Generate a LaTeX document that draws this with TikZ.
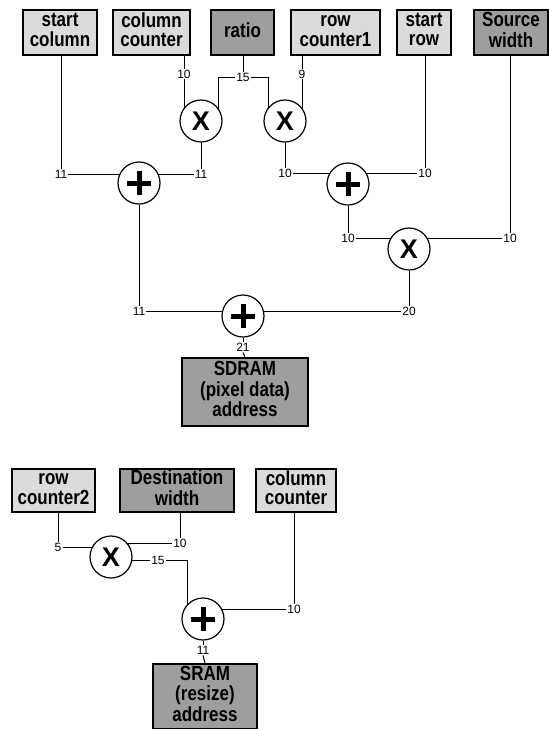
\documentclass[tikz,border=0pt]{standalone}
\usepackage{fontspec}
\setmainfont{Liberation Sans}
\usetikzlibrary{backgrounds}
\definecolor{boxlight}{gray}{0.86}
\definecolor{boxdark}{gray}{0.62}
\newcommand\tallt[1]{\scalebox{1}[1.2]{\begin{tabular}{@{}c@{}}#1\end{tabular}}}
\tikzset{
  box/.style={draw, line width=1.6pt, fill=boxlight, align=center, inner sep=0pt,
    font=\fontsize{17}{16}\selectfont\bfseries},
  dbox/.style={box, fill=boxdark},
  mulnode/.style={circle, draw, line width=1.2pt, fill=white, minimum size=42pt, inner sep=0pt,
    font=\fontsize{27}{27}\selectfont\bfseries},
  addnode/.style={circle, draw, line width=1.2pt, fill=white, minimum size=42pt, inner sep=0pt,
    path picture={\draw[line width=5pt]
      ([xshift=-12pt]path picture bounding box.center) -- ([xshift=12pt]path picture bounding box.center)
      ([yshift=-12pt]path picture bounding box.center) -- ([yshift=12pt]path picture bounding box.center);}},
  lbl/.style={font=\fontsize{12}{12}\selectfont, inner sep=1pt},
  wire/.style={line width=1pt}
}
\begin{document}
\begin{tikzpicture}[x=1pt,y=-1pt]
\useasboundingbox (0,0) rectangle (549,729);
% top boxes
\node[box,  minimum width=74pt, minimum height=45pt] (sc)    at (60,32.5)    {\tallt{start\\column}};
\node[box,  minimum width=77pt, minimum height=45pt] (cc)    at (151.5,32.5) {\tallt{column\\counter}};
\node[dbox, minimum width=63pt, minimum height=45pt] (ratio) at (242.5,32.5) {\tallt{ratio}};
\node[box,  minimum width=89pt, minimum height=45pt] (rc1)   at (335.5,32.5) {\tallt{row\\counter1}};
\node[box,  minimum width=54pt, minimum height=45pt] (sr)    at (424,32.5)   {\tallt{start\\row}};
\node[dbox, minimum width=74pt, minimum height=45pt] (sw)    at (511,32.5)   {\tallt{Source\\width}};
% operators
\node[mulnode] (X1) at (201,121) {X};
\node[mulnode] (X2) at (285,121) {X};
\node[addnode] (P1) at (139,183) {};
\node[addnode] (P2) at (348,184) {};
\node[mulnode] (X3) at (409,249) {X};
\node[addnode] (P3) at (243,316) {};
\node[dbox, minimum width=126pt, minimum height=68pt] (sdram) at (245,392) {\tallt{SDRAM\\(pixel data)\\address}};
% labels
\node[lbl] (La) at (61,174)  {11};
\node[lbl] (Lb) at (201,174) {11};
\node[lbl] (Lc) at (184,74)  {10};
\node[lbl] (Ld) at (243,77)  {15};
\node[lbl] (Le) at (302,74)  {9};
\node[lbl] (Lf) at (285,173) {10};
\node[lbl] (Lg) at (425,173) {10};
\node[lbl] (Lh) at (348,238) {10};
\node[lbl] (Li) at (510,238) {10};
\node[lbl] (Lj) at (139,311) {11};
\node[lbl] (Lk) at (409,311) {20};
\node[lbl] (Ll) at (243,347) {21};
\coordinate (cL) at (218,77);
\coordinate (cR) at (268,77);
% bottom part
\node[box,  minimum width=83pt,  minimum height=43pt] (rc2) at (53.5,490.5) {\tallt{row\\counter2}};
\node[dbox, minimum width=114pt, minimum height=43pt] (dw)  at (177,490.5)  {\tallt{Destination\\width}};
\node[box,  minimum width=80pt,  minimum height=43pt] (ccb) at (296,490.5)  {\tallt{column\\counter}};
\node[mulnode] (X4) at (111,557) {X};
\node[addnode] (P4) at (203,619) {};
\node[dbox, minimum width=104pt, minimum height=65pt] (sram) at (205,696.5) {\tallt{SRAM\\(resize)\\address}};
\node[lbl] (Lm) at (58,547)  {5};
\node[lbl] (Ln) at (180,543) {10};
\node[lbl] (Lo) at (158,560) {15};
\node[lbl] (Lp) at (294,609) {10};
\node[lbl] (Lq) at (203,650) {11};
\coordinate (cB) at (187,560);
\begin{pgfonlayer}{background}
\draw[wire] (sc.south -| La) -- (La.north);
\draw[wire] (La.east) -- (La.east -| P1);
\draw[wire] (Lb.west -| P1) -- (Lb.west);
\draw[wire] (Lb.north) -- (Lb.north |- X1);
\draw[wire] (cc.south -| Lc) -- (Lc.north);
\draw[wire] (Lc.south) -- (Lc.south |- X1);
\draw[wire] (ratio.south -| Ld) -- (Ld.north);
\draw[wire] (Ld.west) -- (cL) -- (cL |- X1);
\draw[wire] (Ld.east) -- (cR) -- (cR |- X2);
\draw[wire] (rc1.south -| Le) -- (Le.north);
\draw[wire] (Le.south) -- (Le.south |- X2);
\draw[wire] (X2) -- (Lf.north);
\draw[wire] (Lf.east) -- (Lf.east -| P2);
\draw[wire] (Lg.west -| P2) -- (Lg.west);
\draw[wire] (sr.south -| Lg) -- (Lg.north);
\draw[wire] (P2) -- (Lh.north);
\draw[wire] (Lh.east) -- (Lh.east -| X3);
\draw[wire] (Li.west -| X3) -- (Li.west);
\draw[wire] (sw.south -| Li) -- (Li.north);
\draw[wire] (P1) -- (Lj.north);
\draw[wire] (Lj.east) -- (Lj.east -| P3);
\draw[wire] (X3) -- (Lk.north);
\draw[wire] (Lk.west -| P3) -- (Lk.west);
\draw[wire] (P3) -- (Ll.north);
\draw[wire] (Ll.south) -- (sdram.north);
\draw[wire] (rc2.south -| Lm) -- (Lm.north);
\draw[wire] (Lm.east) -- (Lm.east -| X4);
\draw[wire] (dw.south -| Ln) -- (Ln.north);
\draw[wire] (Ln.west -| X4) -- (Ln.west);
\draw[wire] (Lo.west -| X4) -- (Lo.west);
\draw[wire] (Lo.east) -- (cB) -- (cB |- P4);
\draw[wire] (ccb.south -| Lp) -- (Lp.north);
\draw[wire] (Lp.west -| P4) -- (Lp.west);
\draw[wire] (P4) -- (Lq.north);
\draw[wire] (Lq.south) -- (sram.north);
\end{pgfonlayer}
\end{tikzpicture}
\end{document}
